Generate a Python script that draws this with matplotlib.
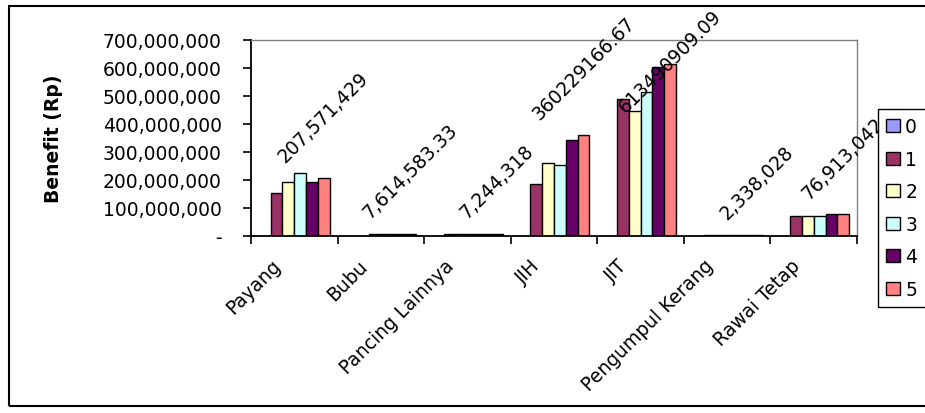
import numpy as np
import matplotlib
matplotlib.use('Agg')
import matplotlib.pyplot as plt
from matplotlib.patches import Rectangle
from matplotlib.transforms import ScaledTranslation

# fishing gear groups and benefit per scenario (Rp)
categories = ['Payang', 'Bubu', 'Pancing Lainnya', 'JIH', 'JIT',
              'Pengumpul Kerang', 'Rawai Tetap']
series_names = ['0', '1', '2', '3', '4', '5']
s0 = [0, 0, 0, 0, 0, 0, 0]
s1 = [152e6, 0, 6.8e6, 186e6, 489e6, 2.1e6, 72.5e6]
s2 = [192e6, 7.2e6, 7.0e6, 260e6, 448e6, 2.2e6, 72.5e6]
s3 = [225e6, 7.4e6, 7.1e6, 254e6, 515e6, 2.3e6, 72.5e6]
s4 = [192e6, 7.5e6, 7.2e6, 343e6, 605e6, 2.3e6, 77.5e6]
s5 = [207571429, 7614583.33, 7244318, 360229166.67, 613490909.09,
      2338028, 76913042]
s5_labels = ['207,571,429', '7,614,583.33', '7,244,318', '360229166.67',
             '613490909.09', '2,338,028', '76,913,042']
yticks = [0, 100e6, 200e6, 300e6, 400e6, 500e6, 600e6, 700e6]
ytick_labels = ['-', '100,000,000', '200,000,000', '300,000,000',
                '400,000,000', '500,000,000', '600,000,000', '700,000,000']

colors = ['#9999FF', '#993366', '#FFFFCC', '#CCFFFF', '#660066', '#FF8080']
series = [s0, s1, s2, s3, s4, s5]

plt.rcParams['font.family'] = 'DejaVu Sans'
fs = 13.5

fig = plt.figure(figsize=(9.25, 4.14), dpi=100)
ax = fig.add_axes([251/925, 1-237/414, 606/925, 196/414])

# outer chart frame
fig.patches.append(Rectangle((9/925, 1-407/414), 1.2, 400/414,
                             transform=fig.transFigure, fill=False,
                             edgecolor='black', linewidth=1.5, zorder=0))

x = np.arange(len(categories))
w = 0.1364
for k, (vals, c) in enumerate(zip(series, colors)):
    ax.bar(x + (k - 2.5) * w, vals, w, color=c, edgecolor='black',
           linewidth=1.0, label=series_names[k], zorder=2)

# data labels for the last series, kept inside the chart area
cap = 385e6
for xi, v, t in zip(x, s5, s5_labels):
    ax.annotate(t, (xi + 2.5 * w, min(v, cap)), xytext=(0, 9),
                textcoords='offset points', rotation=45, ha='center',
                va='bottom', fontsize=fs, zorder=3, annotation_clip=False)

ax.set_xlim(-0.5, len(categories) - 0.5)
ax.set_ylim(0, 700e6)
ax.set_yticks(yticks)
ax.set_yticklabels(ytick_labels, fontsize=fs)
ax.tick_params(axis='y', direction='out', length=6, width=1.2, pad=15)

ax.set_xticks(x)
ax.set_xticklabels(categories, fontsize=fs, rotation=45, ha='right',
                   va='center', rotation_mode='anchor')
ax.set_xticks(np.arange(len(categories) + 1) - 0.5, minor=True)
ax.tick_params(axis='x', which='major', length=0, pad=19)
ax.tick_params(axis='x', which='minor', direction='out', length=6, width=1.2)
shift = ScaledTranslation(-12/72, 0, fig.dpi_scale_trans)
for lbl in ax.get_xticklabels():
    lbl.set_transform(lbl.get_transform() + shift)

for side in ['left', 'bottom']:
    ax.spines[side].set_color('black')
    ax.spines[side].set_linewidth(1.3)
for side in ['top', 'right']:
    ax.spines[side].set_color('#808080')
    ax.spines[side].set_linewidth(1.0)

ax.set_ylabel('Benefit (Rp)', fontsize=fs, fontweight='bold')
ax.yaxis.set_label_coords(-0.31, 0.5)

leg = fig.legend(loc='upper left', bbox_to_anchor=(878/925, 1-110/414),
                 fontsize=fs, frameon=True, fancybox=False, shadow=False,
                 handlelength=0.7, handleheight=0.7, handletextpad=0.3,
                 labelspacing=0.72, borderpad=0.45, borderaxespad=0)
leg.get_frame().set_edgecolor('black')
leg.get_frame().set_linewidth(1.0)
leg.get_frame().set_alpha(1)
leg.set_zorder(5)

fig.savefig('out.png', dpi=100)
